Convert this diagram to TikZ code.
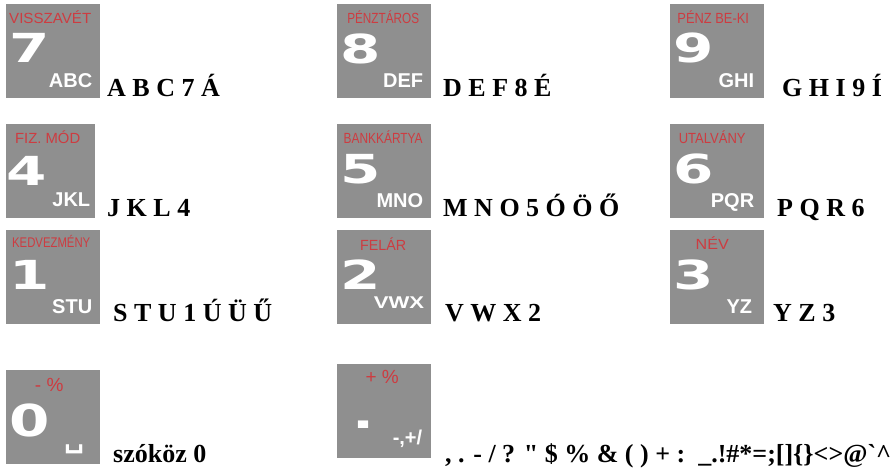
\documentclass[tikz,border=0pt]{standalone}
\usepackage{fontspec}
\setmainfont{Liberation Serif}[Ligatures=TeXOff]
\newfontfamily\capsfont{Liberation Sans}
\newfontfamily\digitfont{DejaVu Sans}
\usetikzlibrary{positioning, calc}
\definecolor{keygray}{RGB}{143,143,143}
\definecolor{keyred}{RGB}{205,60,65}
\newcommand{\wide}[1]{\scalebox{1.45}[1]{#1}}

\begin{document}
\begin{tikzpicture}[x=1pt, y=-1pt,
  keybox/.style={rectangle, fill=keygray, minimum width=94pt, minimum height=94pt, inner sep=0pt, anchor=north west},
  fnlabel/.style={inner sep=0pt, anchor=north, text=keyred, font=\capsfont\fontsize{14}{14}\selectfont},
  biglabel/.style={fnlabel, font=\capsfont\fontsize{19}{19}\selectfont},
  bigdigit/.style={inner sep=0pt, anchor=base west, text=white, font=\digitfont\bfseries\fontsize{40}{40}\selectfont},
  letters/.style={inner sep=0pt, anchor=base east, text=white, font=\capsfont\bfseries\fontsize{20}{20}\selectfont},
  keytext/.style={inner sep=0pt, anchor=base west, font=\bfseries\fontsize{26}{30}\selectfont}]
\useasboundingbox (0,0) rectangle (895,470);

% top row: 7 8 9
\node (k7) [keybox] at (6,4) {};
\node (k7f) [fnlabel] at ($(k7.north)+(-3,7)$) {\scalebox{1.08}[1.05]{VISSZAVÉT}};
\node (k7d) [bigdigit] at ($(k7.north west)+(3,59)$) {\wide{7}};
\node (k7l) [letters] at ($(k7.north east)+(-8,84)$) {ABC};
\node (t7) [keytext] at (107,97) {A B C 7 Á};

\node (k8) [keybox] at (337,4) {};
\node (k8f) [fnlabel] at ($(k8.north)+(-1,7)$) {\scalebox{0.84}[1.05]{PÉNZTÁROS}};
\node (k8d) [bigdigit] at ($(k8.north west)+(3,60)$) {\wide{8}};
\node (k8l) [letters] at ($(k8.north east)+(-8,84)$) {DEF};
\node (t8) [keytext] at (443,97) {D E F 8 É};

\node (k9) [keybox] at (670,4) {};
\node (k9f) [fnlabel] at ($(k9.north)+(-4,7)$) {\scalebox{0.92}[1.05]{PÉNZ BE-KI}};
\node (k9d) [bigdigit] at ($(k9.north west)+(3,59)$) {\wide{9}};
\node (k9l) [letters] at ($(k9.north east)+(-10,84)$) {GHI};
\node (t9) [keytext] at (782,97) {G H I 9 Í};

% middle row: 4 5 6
\node (k4) [keybox, minimum width=89pt] at (6,124) {};
\node (k4f) [fnlabel] at ($(k4.north)+(-3,7)$) {\scalebox{1.06}[1.05]{FIZ. MÓD}};
\node (k4d) [bigdigit] at ($(k4.north west)+(0,62)$) {\wide{4}};
\node (k4l) [letters] at ($(k4.north east)+(-5,83)$) {JKL};
\node (t4) [keytext] at (107,217) {J K L 4};

\node (k5) [keybox] at (337,124) {};
\node (k5f) [fnlabel] at ($(k5.north)+(-1,7)$) {\scalebox{0.85}[1.05]{BANKKÁRTYA}};
\node (k5d) [bigdigit] at ($(k5.north west)+(3,60)$) {\wide{5}};
\node (k5l) [letters] at ($(k5.north east)+(-8,84)$) {MNO};
\node (t5) [keytext] at (443,217) {M N O 5 Ó Ö Ő};

\node (k6) [keybox] at (670,124) {};
\node (k6f) [fnlabel] at ($(k6.north)+(-5,7)$) {\scalebox{0.93}[1.05]{UTALVÁNY}};
\node (k6d) [bigdigit] at ($(k6.north west)+(3,60)$) {\wide{6}};
\node (k6l) [letters] at ($(k6.north east)+(-10,84)$) {PQR};
\node (t6) [keytext] at (777,217) {P Q R 6};

% lower row: 1 2 3
\node (k1) [keybox] at (6,230) {};
\node (k1f) [fnlabel] at ($(k1.north)+(-2,5)$) {\scalebox{0.81}[1]{KEDVEZMÉNY}};
\node (k1d) [bigdigit] at ($(k1.north west)+(3,60)$) {\wide{1}};
\node (k1l) [letters] at ($(k1.north east)+(-8,84)$) {STU};
\node (t1) [keytext] at (113,322) {S T U 1 Ú Ü Ű};

\node (k2) [keybox] at (337,230) {};
\node (k2f) [fnlabel] at ($(k2.north)+(-1,8)$) {\scalebox{1.02}[1.05]{FELÁR}};
\node (k2d) [bigdigit] at ($(k2.north west)+(3,60)$) {\wide{2}};
\node (k2l) [letters, font=\capsfont\bfseries\fontsize{17}{17}\selectfont] at ($(k2.north east)+(-7,79)$) {\scalebox{1.3}[1]{VWX}};
\node (t2) [keytext] at (445,322) {V W X 2};

\node (k3) [keybox] at (670,230) {};
\node (k3f) [fnlabel] at ($(k3.north)+(-5,7)$) {\scalebox{1.15}[1.05]{NÉV}};
\node (k3d) [bigdigit] at ($(k3.north west)+(3,60)$) {\wide{3}};
\node (k3l) [letters] at ($(k3.north east)+(-12,84)$) {YZ};
\node (t3) [keytext] at (773,322) {Y Z 3};

% bottom row: 0 and .
\node (k0) [keybox] at (6,370) {};
\node (k0f) [biglabel] at ($(k0.north)+(-4,8)$) {- \%};
\node (k0d) [bigdigit] at ($(k0.north west)+(3,67)$) {\scalebox{1.45}[1.1]{0}};
\node (k0l) [letters, font=\digitfont\bfseries\fontsize{28}{28}\selectfont] at ($(k0.north east)+(-16,77)$) {␣};
\node (t0) [keytext] at (113,463) {szóköz 0};

\node (kp) [keybox] at (337,364) {};
\node (kpf) [biglabel] at ($(kp.north)+(-2,6)$) {+ \%};
\node (kpd) [bigdigit] at ($(kp.north west)+(15,65)$) {\wide{.}};
\node (kpl) [letters] at ($(kp.north east)+(-9,81)$) {-,+/};
\node (tp) [keytext] at (445,463) {, . - / ? " \$ \% \& ( ) + :\ \ \_.!\#*=;[]\{\}<>@`\textasciicircum};
\end{tikzpicture}
\end{document}
